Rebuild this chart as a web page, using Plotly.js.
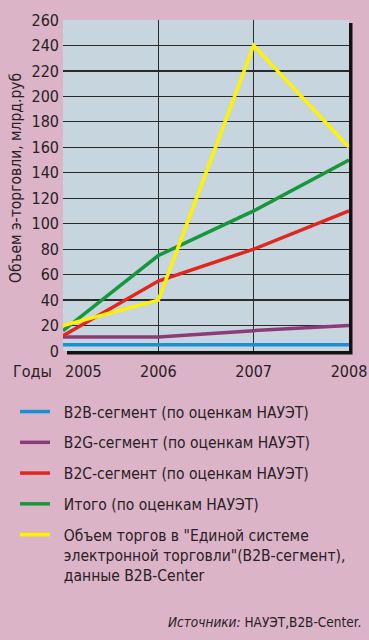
<!DOCTYPE html>
<html>
<head>
<meta charset="utf-8">
<script src="https://cdn.plot.ly/plotly-3.0.1.min.js"></script>
<style>
html,body{margin:0;padding:0;background:#dbb4c8;}
#chart{width:369px;height:640px;}
</style>
</head>
<body>
<div id="chart"></div>
<script>
const years = [2005, 2006, 2007, 2008];
const yearLabels = ["2005", "2006", "2007", "2008"];
const b2b = [5, 5, 5, 5];
const b2g = [11, 11, 16, 20];
const b2c = [12, 55, 80, 110];
const total = [16, 75, 110, 150];
const b2bCenter = [20, 40, 240, 160];
const yTicks = [0, 20, 40, 60, 80, 100, 120, 140, 160, 180, 200, 220, 240, 260];
const seriesNames = [
  "B2B-сегмент (по оценкам НАУЭТ)",
  "B2G-сегмент (по оценкам НАУЭТ)",
  "B2C-сегмент (по оценкам НАУЭТ)",
  "Итого (по оценкам НАУЭТ)",
  "Объем торгов в \"Единой системе<br>электронной торговли\"(B2B-сегмент),<br>данные B2B-Center"
];
const colors = ["#1b8fd6", "#8d3b78", "#e2261d", "#16973a", "#fff200"];
const seriesData = [b2b, b2g, b2c, total, b2bCenter];

const FONT = "'DejaVu Sans Condensed', 'Liberation Sans Narrow', sans-serif";
const TXT = '#2a2024';
const W = 369, H = 640;
const L = 63, R = 20, T = 20, B = 289;
const pw = W - L - R, ph = H - T - B;
const PAD = '\u00a0\u00a0';

const traces = seriesData.map((d, i) => ({
  x: years, y: d, type: 'scatter', mode: 'lines',
  name: seriesNames[i].split('<br>').map(s => PAD + s).join('<br>'),
  legendgroup: 'g' + i,
  line: {color: colors[i], width: 3.5},
  hoverinfo: 'skip'
}));

const tickY = (H - B - 371) / ph;

const layout = {
  width: W, height: H,
  margin: {l: L, r: R, t: T, b: B},
  paper_bgcolor: '#dbb4c8',
  plot_bgcolor: 'rgba(0,0,0,0)',
  font: {family: FONT, color: TXT, size: 16},
  showlegend: true,
  legend: {
    x: (15 - L) / pw, xanchor: 'left',
    y: (H - B - 395) / ph, yanchor: 'top',
    bgcolor: 'rgba(0,0,0,0)',
    font: {family: FONT, size: 15.5, color: TXT},
    traceorder: 'grouped',
    tracegroupgap: 7.6,
    valign: 'top',
    itemwidth: 30
  },
  xaxis: {
    range: [2005, 2008],
    tickvals: years.slice(1), ticktext: yearLabels.slice(1),
    showgrid: true, gridcolor: '#2a2a2a', gridwidth: 1.6,
    zeroline: false, showline: false, ticks: '',
    tickfont: {family: FONT, size: 16, color: TXT},
    ticklabelstandoff: 9,
    fixedrange: true
  },
  yaxis: {
    range: [0, 260],
    tickvals: yTicks,
    showgrid: true, gridcolor: '#2a2a2a', gridwidth: 1.2,
    zeroline: false, showline: false, ticks: '',
    tickfont: {family: FONT, size: 16, color: TXT},
    ticklabelstandoff: 3,
    fixedrange: true
  },
  shapes: [
    {type: 'rect', xref: 'paper', yref: 'paper', layer: 'below',
     x0: 4 / pw, x1: 1 + 3.5 / pw, y0: -3.5 / ph, y1: 1 - 3 / ph,
     fillcolor: '#111', line: {width: 0}},
    {type: 'rect', xref: 'paper', yref: 'paper', layer: 'below',
     x0: 0, x1: 1, y0: 0, y1: 1,
     fillcolor: '#c6d5de', line: {width: 0}}
  ],
  annotations: [
    {text: 'Объем э-торговли, млрд.руб', xref: 'paper', yref: 'paper',
     x: (16 - L) / pw, y: (H - B - 178) / ph, xanchor: 'center', yanchor: 'middle',
     textangle: -90, showarrow: false,
     font: {family: FONT, size: 15.5, color: TXT}},
    {text: 'Годы', xref: 'paper', yref: 'paper',
     x: (54 - L) / pw, y: tickY, xanchor: 'right', yanchor: 'middle',
     showarrow: false, font: {family: FONT, size: 16, color: TXT}},
    {text: yearLabels[0], xref: 'x', yref: 'paper',
     x: years[0], y: tickY, xanchor: 'left', yanchor: 'middle',
     showarrow: false, font: {family: FONT, size: 16, color: TXT}},
    {text: '<i>Источники:</i> НАУЭТ,B2B-Center.', xref: 'paper', yref: 'paper',
     x: (363 - L) / pw, y: (H - B - 622) / ph, xanchor: 'right', yanchor: 'middle',
     showarrow: false, font: {family: FONT, size: 13.5, color: TXT}}
  ]
};

Plotly.newPlot('chart', traces, layout, {displayModeBar: false, staticPlot: true});
</script>
</body>
</html>
